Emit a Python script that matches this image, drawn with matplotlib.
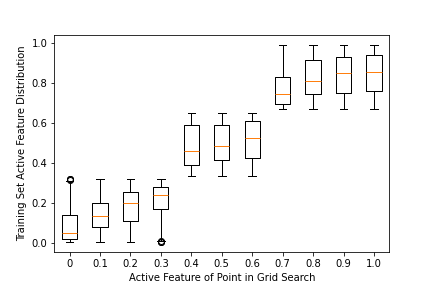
import matplotlib
matplotlib.use('Agg')
import matplotlib.pyplot as plt

# Active feature values of the grid search points
labels = ['0', '0.1', '0.2', '0.3', '0.4', '0.5', '0.6', '0.7', '0.8', '0.9', '1.0']

# Box statistics
whislo = [0.007, 0.005, 0.005, 0.014, 0.336, 0.336, 0.336, 0.67, 0.67, 0.67, 0.67]
q1 = [0.02, 0.08, 0.11, 0.17, 0.39, 0.415, 0.425, 0.695, 0.745, 0.75, 0.76]
med = [0.05, 0.135, 0.2, 0.24, 0.46, 0.486, 0.525, 0.746, 0.81, 0.85, 0.855]
q3 = [0.14, 0.2, 0.255, 0.28, 0.59, 0.59, 0.61, 0.83, 0.915, 0.93, 0.94]
whishi = [0.31, 0.32, 0.32, 0.32, 0.65, 0.65, 0.65, 0.993, 0.993, 0.993, 0.993]
fliers = [[0.315, 0.32, 0.324], [], [], [0.005, 0.008, 0.011], [], [], [], [], [], [], []]

stats = []
for i in range(len(labels)):
    stats.append({'label': labels[i], 'whislo': whislo[i], 'q1': q1[i], 'med': med[i],
                  'q3': q3[i], 'whishi': whishi[i], 'fliers': fliers[i]})

fig, ax = plt.subplots(figsize=(6, 4), dpi=72)
fig.subplots_adjust(left=0.1257, right=0.901, top=0.8785, bottom=0.124)

ax.bxp(stats, widths=0.5)
ax.set_ylim(-0.044, 1.042)

ax.set_xlabel('Active Feature of Point in Grid Search')
ax.set_ylabel('Training Set Active Feature Distribution')

fig.savefig('out.png', dpi=72)
